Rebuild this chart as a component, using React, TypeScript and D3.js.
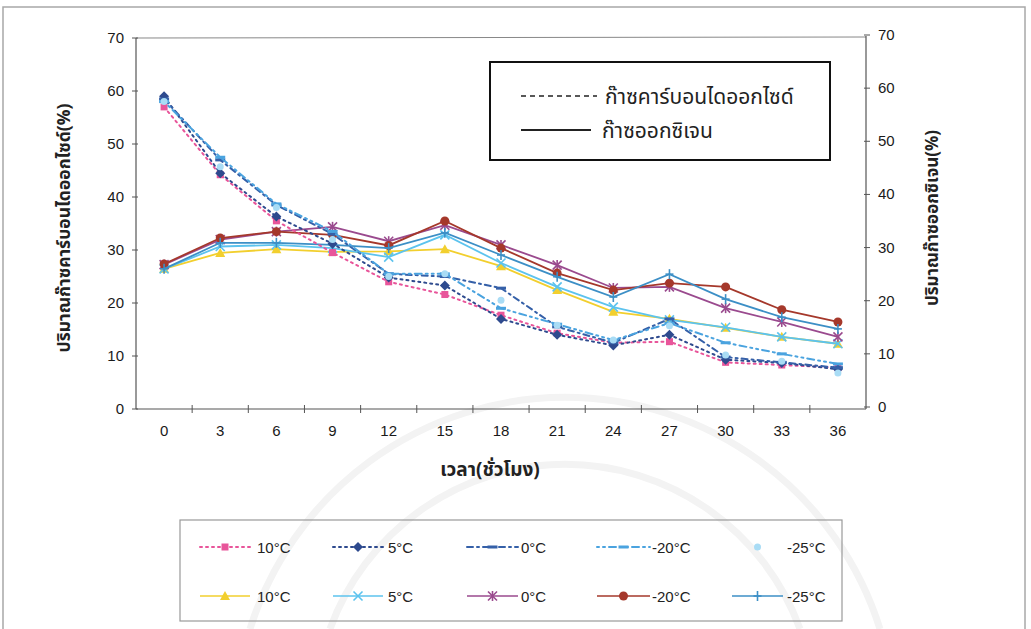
import React from "react";
import * as d3 from "d3";

// Sampling times (hours)
const hours = [0, 3, 6, 9, 12, 15, 18, 21, 24, 27, 30, 33, 36];
const yTicks = [0, 10, 20, 30, 40, 50, 60, 70];

// Carbon dioxide (%) per storage temperature — left axis
const co2_10 = [57, 44.2, 35.5, 29.5, 24, 21.6, 17.7, 14.3, 12.5, 12.7, 8.8, 8.3, 7.8];
const co2_5 = [59, 44.5, 36.3, 31.2, 24.8, 23.3, 17, 14, 12, 14, 9.3, 8.7, 7.5];
const co2_0 = [58.5, 47, 38.5, 33, 25.5, 25, 22.8, 15.5, 12.5, 17, 9.8, 8.8, 7.8];
const co2_m20 = [58, 47.5, 38.7, 33.5, 25.5, 25.5, 19, 16, 13, 16.2, 12.5, 10.4, 8.5];
const co2_m25 = [58, 45.7, 38, 32, 25, 25.5, 20.5, 15.8, 13, 15.7, 10.2, 9, 6.8];

// Oxygen (%) per storage temperature — right axis
const o2_10 = [26, 29, 29.7, 29.2, 29.3, 29.7, 26.5, 22, 17.9, 16.6, 14.9, 13.2, 11.9];
const o2_5 = [26, 30.2, 30.5, 29.9, 28.2, 32.4, 27.1, 22.6, 18.8, 16.4, 15, 13.2, 11.9];
const o2_0 = [26.8, 31.5, 33, 33.9, 31.2, 34.2, 30.5, 26.7, 22.4, 22.6, 18.6, 16, 13.2];
const o2_m20 = [26.9, 31.8, 33, 32.4, 30.4, 35, 29.9, 25.2, 22, 23.3, 22.6, 18.3, 16];
const o2_m25 = [26, 30.9, 30.9, 30.5, 29.9, 32.8, 28.6, 24.5, 20.7, 25, 20.3, 16.9, 14.7];

type Marker = "square" | "diamond" | "dash" | "dot" | "triangle" | "x" | "star" | "circle" | "plus";

interface Series {
  label: string;
  values: number[];
  color: string;
  dash: string | null; // null = markers only
  marker: Marker;
  axis: "left" | "right";
}

const co2Series: Series[] = [
  { label: "10°C", values: co2_10, color: "#e8559a", dash: "2,4", marker: "square", axis: "left" },
  { label: "5°C", values: co2_5, color: "#2e4a8e", dash: "2,4", marker: "diamond", axis: "left" },
  { label: "0°C", values: co2_0, color: "#3560a8", dash: "6,4,2,4", marker: "dash", axis: "left" },
  { label: "-20°C", values: co2_m20, color: "#4aa3df", dash: "2,4,2,4,7,4", marker: "dash", axis: "left" },
  { label: "-25°C", values: co2_m25, color: "#a9dcf5", dash: null, marker: "dot", axis: "left" },
];

const o2Series: Series[] = [
  { label: "10°C", values: o2_10, color: "#f2cf2e", dash: "", marker: "triangle", axis: "right" },
  { label: "5°C", values: o2_5, color: "#5cc3ee", dash: "", marker: "x", axis: "right" },
  { label: "0°C", values: o2_0, color: "#9a4a8e", dash: "", marker: "star", axis: "right" },
  { label: "-20°C", values: o2_m20, color: "#a5382b", dash: "", marker: "circle", axis: "right" },
  { label: "-25°C", values: o2_m25, color: "#3c8fc6", dash: "", marker: "plus", axis: "right" },
];

const W = 1031;
const H = 629;
const LEFT = 136;
const RIGHT = 866;
const FONT = "'Liberation Sans', Arial, sans-serif";
const THAI = "'Noto Sans Thai', 'Noto Sans', 'DejaVu Sans', sans-serif";

const x = d3.scaleBand<number>().domain(hours).range([LEFT, RIGHT]);
const yL = d3.scaleLinear().domain([0, 70]).range([409, 38]);
const yR = d3.scaleLinear().domain([0, 70]).range([407, 35]);

function MarkerShape({ kind, cx, cy, color }: { kind: Marker; cx: number; cy: number; color: string }) {
  switch (kind) {
    case "square":
      return <rect x={cx - 3.5} y={cy - 3.5} width={7} height={7} fill={color} />;
    case "diamond":
      return <path d={`M${cx},${cy - 5}L${cx + 5},${cy}L${cx},${cy + 5}L${cx - 5},${cy}Z`} fill={color} />;
    case "dash":
      return <rect x={cx - 5} y={cy - 1.5} width={10} height={3} fill={color} />;
    case "dot":
      return <circle cx={cx} cy={cy} r={3.5} fill={color} />;
    case "triangle":
      return <path d={`M${cx},${cy - 5}L${cx + 5},${cy + 4}L${cx - 5},${cy + 4}Z`} fill={color} />;
    case "x":
      return (
        <g stroke={color} strokeWidth={1.6}>
          <line x1={cx - 4.5} y1={cy - 4.5} x2={cx + 4.5} y2={cy + 4.5} />
          <line x1={cx - 4.5} y1={cy + 4.5} x2={cx + 4.5} y2={cy - 4.5} />
        </g>
      );
    case "star":
      return (
        <g stroke={color} strokeWidth={1.6}>
          <line x1={cx - 4.5} y1={cy - 4.5} x2={cx + 4.5} y2={cy + 4.5} />
          <line x1={cx - 4.5} y1={cy + 4.5} x2={cx + 4.5} y2={cy - 4.5} />
          <line x1={cx} y1={cy - 5} x2={cx} y2={cy + 5} />
        </g>
      );
    case "circle":
      return <circle cx={cx} cy={cy} r={4.5} fill={color} />;
    case "plus":
      return (
        <g stroke={color} strokeWidth={1.6}>
          <line x1={cx} y1={cy - 5} x2={cx} y2={cy + 5} />
          <line x1={cx - 4} y1={cy} x2={cx + 4} y2={cy} />
        </g>
      );
  }
}

function SeriesMarks({ s }: { s: Series }) {
  const y = s.axis === "left" ? yL : yR;
  const cx = (i: number) => (x(hours[i]) as number) + x.bandwidth() / 2;
  const line = d3
    .line<number>()
    .x((_, i) => cx(i))
    .y((v) => y(v));
  return (
    <g>
      {s.dash !== null && (
        <path
          d={line(s.values) || ""}
          fill="none"
          stroke={s.color}
          strokeWidth={s.axis === "left" ? 2 : 1.8}
          strokeDasharray={s.dash || undefined}
          strokeLinecap={s.axis === "left" ? "round" : "butt"}
        />
      )}
      {s.values.map((v, i) => (
        <MarkerShape key={i} kind={s.marker} cx={cx(i)} cy={y(v)} color={s.color} />
      ))}
    </g>
  );
}

// legend column geometry: line start/end, text x
const legendCols = [
  { x1: 200, x2: 250, text: 257 },
  { x1: 333, x2: 383, text: 388 },
  { x1: 467, x2: 518, text: 521 },
  { x1: 597, x2: 650, text: 652 },
  { x1: 732, x2: 783, text: 787 },
];

function LegendEntry({ s, col, cy }: { s: Series; col: number; cy: number }) {
  const c = legendCols[col];
  const mx = (c.x1 + c.x2) / 2;
  return (
    <g>
      {s.dash !== null && (
        <line
          x1={c.x1}
          x2={c.x2}
          y1={cy}
          y2={cy}
          stroke={s.color}
          strokeWidth={s.axis === "left" ? 2 : 1.6}
          strokeDasharray={s.dash || undefined}
          strokeLinecap={s.axis === "left" ? "round" : "butt"}
        />
      )}
      <MarkerShape kind={s.marker} cx={mx} cy={cy} color={s.color} />
      <text x={c.text} y={cy + 5.5} fontSize={15} fontFamily={FONT} fill="#222">
        {s.label}
      </text>
    </g>
  );
}

export default function App() {
  return (
    <svg width={W} height={H} style={{ position: "absolute", left: 0, top: 0, background: "#fff" }}>
      {/* page frame */}
      <rect x={3} y={7} width={1022} height={640} fill="none" stroke="#a8a8a8" strokeWidth={1.5} />

      {/* faint watermark arcs */}
      <g fill="none" stroke="#f3f3f3" strokeWidth={7}>
        <path d="M250,629 A330,330 0 0 1 880,629" />
        <path d="M330,629 A250,250 0 0 1 800,629" />
      </g>

      {/* plot frame */}
      <line x1={LEFT} x2={RIGHT} y1={38} y2={37} stroke="#888" strokeWidth={1} />
      <line x1={LEFT} x2={LEFT} y1={38} y2={409} stroke="#555" strokeWidth={1.2} />
      <line x1={RIGHT} x2={RIGHT} y1={36} y2={409} stroke="#555" strokeWidth={1.2} />
      <line x1={LEFT} x2={RIGHT} y1={409} y2={409} stroke="#555" strokeWidth={1.2} />

      {/* left axis */}
      {yTicks.map((t) => (
        <g key={"l" + t}>
          <line x1={LEFT - 4} x2={LEFT + 2} y1={yL(t)} y2={yL(t)} stroke="#555" />
          <text x={LEFT - 12} y={yL(t) + 5} textAnchor="end" fontSize={15} fontFamily={FONT} fill="#1a1a1a">
            {t}
          </text>
        </g>
      ))}
      {/* right axis */}
      {yTicks.map((t) => (
        <g key={"r" + t}>
          <line x1={RIGHT - 2} x2={RIGHT + 4} y1={yR(t)} y2={yR(t)} stroke="#555" />
          <text x={RIGHT + 12} y={yR(t) + 5} textAnchor="start" fontSize={15} fontFamily={FONT} fill="#1a1a1a">
            {t}
          </text>
        </g>
      ))}
      {/* x axis */}
      {hours.slice(1).map((h) => (
        <line key={"xt" + h} x1={x(h)} x2={x(h)} y1={405} y2={413} stroke="#555" />
      ))}
      {hours.map((h) => (
        <text
          key={"xl" + h}
          x={(x(h) as number) + x.bandwidth() / 2}
          y={436}
          textAnchor="middle"
          fontSize={15}
          fontFamily={FONT}
          fill="#1a1a1a"
        >
          {h}
        </text>
      ))}

      {/* axis titles */}
      <text x={490} y={476} textAnchor="middle" fontSize={19} fontWeight="bold" fontFamily={THAI} fill="#222">
        เวลา(ชั่วโมง)
      </text>
      <text
        transform="translate(70,228) rotate(-90)"
        textAnchor="middle"
        fontSize={17.5}
        fontWeight="bold"
        fontFamily={THAI}
        fill="#222"
      >
        ปริมาณก๊าซคาร์บอนไดออกไซด์(%)
      </text>
      <text
        transform="translate(938,218) rotate(-90)"
        textAnchor="middle"
        fontSize={17}
        fontWeight="bold"
        fontFamily={THAI}
        fill="#222"
      >
        ปริมาณก๊าซออกซิเจน(%)
      </text>

      {/* data */}
      {o2Series.map((s) => (
        <SeriesMarks key={"o" + s.label} s={s} />
      ))}
      {co2Series.map((s) => (
        <SeriesMarks key={"c" + s.label} s={s} />
      ))}

      {/* gas-type legend */}
      <rect x={490} y={62} width={340} height={98} fill="#fff" stroke="#111" strokeWidth={2} />
      <line x1={521} x2={597} y1={96} y2={96} stroke="#222" strokeWidth={1.3} strokeDasharray="5,4" />
      <text x={605} y={104} fontSize={21} fontFamily={THAI} fill="#222">
        ก๊าซคาร์บอนไดออกไซด์
      </text>
      <line x1={521} x2={591} y1={130} y2={130} stroke="#222" strokeWidth={2} />
      <text x={602} y={138} fontSize={21} fontFamily={THAI} fill="#222">
        ก๊าซออกซิเจน
      </text>

      {/* temperature legend */}
      <rect x={180} y={520} width={662} height={101} fill="none" stroke="#999" strokeWidth={1.2} />
      {co2Series.map((s, i) => (
        <LegendEntry key={"lc" + i} s={s} col={i} cy={547} />
      ))}
      {o2Series.map((s, i) => (
        <LegendEntry key={"lo" + i} s={s} col={i} cy={596} />
      ))}
    </svg>
  );
}
